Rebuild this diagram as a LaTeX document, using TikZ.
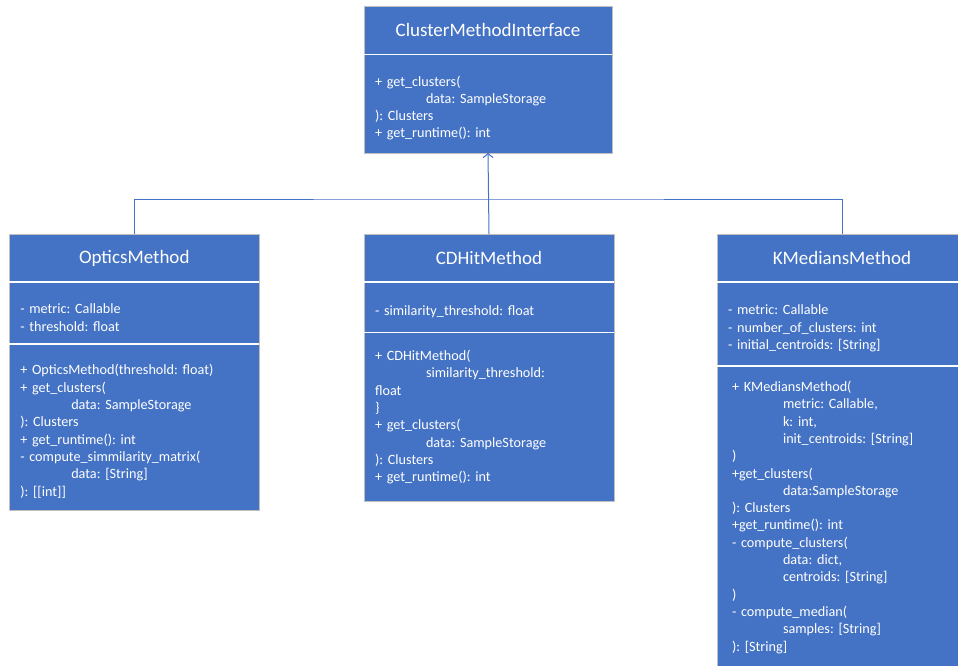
\documentclass[tikz,border=0pt]{standalone}
\usepackage{fontspec}
\setmainfont{Carlito}
\usetikzlibrary{positioning, arrows.meta}

\definecolor{umlblue}{HTML}{4472C4}
\definecolor{umledge}{HTML}{BFBFBF}
\newcommand{\argind}{\hspace*{51pt}}
\newcommand{\partheadroom}{19pt}
\frenchspacing

\begin{document}
\begin{tikzpicture}[
    x=1pt, y=-1pt,
    headroom/.store in=\partheadroom,
    classhead/.style={draw=umledge, fill=umlblue, text=white, minimum width=250pt, minimum height=48pt, outer sep=0pt, font=\fontsize{19}{22}\selectfont},
    classpart/.style={draw=umledge, fill=umlblue, text=white, text width=228pt, inner xsep=11pt, align=left, outer sep=0pt, font=\fontsize{14.2}{17.3}\selectfont, execute at begin node={\rule{0pt}{\partheadroom}}},
    divider/.style={white, line width=1.2pt},
    link/.style={umlblue, line width=1pt},
    inherit/.style={-{Straight Barb[length=4pt, width=10pt]}, umlblue, line width=1pt}
]
    \useasboundingbox (0,0) rectangle (958,665);
    \clip (0,0) rectangle (958,665);

    % interface
    \node[classhead, minimum width=248pt, minimum height=48.5pt] (cmi) at (488,30.25) {ClusterMethodInterface};
    \node[classpart, text width=226pt, minimum height=98.5pt, below=0pt of cmi] (cmi-m) {+ get\_clusters(\\
\argind data: SampleStorage\\
): Clusters\\
+ get\_runtime(): int};

    % optics
    \node[classhead] (opt) at (134.25,258) {OpticsMethod};
    \node[classpart, minimum height=62pt, below=0pt of opt] (opt-a) {- metric: Callable\\
- threshold: float};
    \node[classpart, minimum height=166pt, below=0pt of opt-a] (opt-m) {+ OpticsMethod(threshold: float)\\
+ get\_clusters(\\
\argind data: SampleStorage\\
): Clusters\\
+ get\_runtime(): int\\
- compute\_simmilarity\_matrix(\\
\argind data: [String]\\
): [[int]]};

    % cd-hit
    \node[classhead] (cdh) at (489,258) {CDHitMethod};
    \node[classpart, minimum height=50.6pt, below=0pt of cdh] (cdh-a) {- similarity\_threshold: float};
    \node[classpart, headroom=11pt, minimum height=168.4pt, below=0pt of cdh-a] (cdh-m) {+ CDHitMethod(\\
\argind similarity\_threshold:\\
float\\
\}\\
+ get\_clusters(\\
\argind data: SampleStorage\\
): Clusters\\
+ get\_runtime(): int};

    % k-medians
    \node[classhead] (kmd) at (842,258) {KMediansMethod};
    \node[classpart, minimum height=84pt, below=0pt of kmd] (kmd-a) {- metric: Callable\\
- number\_of\_clusters: int\\
- initial\_centroids: [String]};
    \node[classpart, headroom=11pt, minimum height=302pt, below=0pt of kmd-a] (kmd-m) {\hspace*{4pt}+ KMediansMethod(\\
\argind\hspace*{4pt}metric: Callable,\\
\argind\hspace*{4pt}k: int,\\
\argind\hspace*{4pt}init\_centroids: [String]\\
\hspace*{4pt})\\
\hspace*{4pt}+get\_clusters(\\
\argind\hspace*{4pt}data:SampleStorage\\
\hspace*{4pt}): Clusters\\
\hspace*{4pt}+get\_runtime(): int\\
\hspace*{4pt}- compute\_clusters(\\
\argind\hspace*{4pt}data: dict,\\
\argind\hspace*{4pt}centroids: [String]\\
\hspace*{4pt})\\
\hspace*{4pt}- compute\_median(\\
\argind\hspace*{4pt}samples: [String]\\
\hspace*{4pt}): [String]};

    % dividers
    \draw[divider] (cmi.south west) -- (cmi.south east);
    \draw[divider] (opt.south west) -- (opt.south east);
    \draw[divider] (opt-a.south west) -- (opt-a.south east);
    \draw[divider] (cdh.south west) -- (cdh.south east);
    \draw[divider] (cdh-a.south west) -- (cdh-a.south east);
    \draw[divider] (kmd.south west) -- (kmd.south east);
    \draw[divider] (kmd-a.south west) -- (kmd-a.south east);

    % inheritance
    \coordinate (fork) at (489,199);
    \draw[link] (opt.north) |- (fork) -| (kmd.north);
    \draw[inherit] (cdh.north) -- (cmi-m.south);
\end{tikzpicture}
\end{document}
